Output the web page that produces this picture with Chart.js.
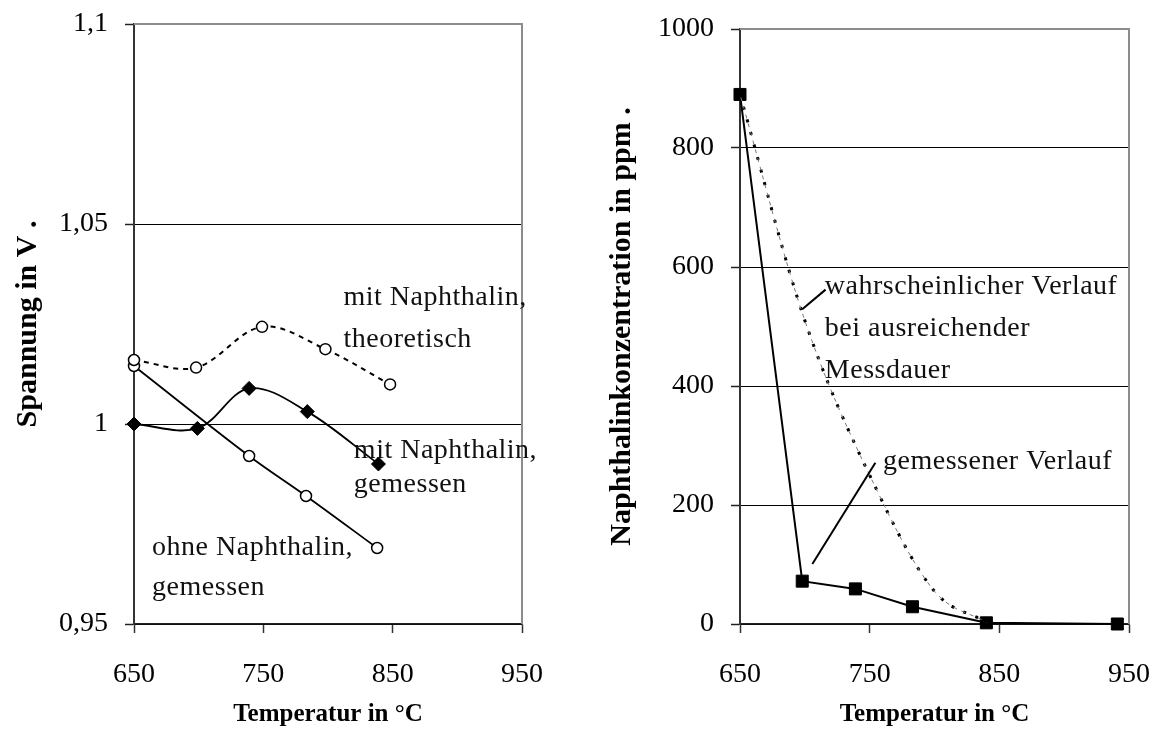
<!DOCTYPE html>
<html>
<head>
<meta charset="utf-8">
<script src="https://cdn.jsdelivr.net/npm/chart.js@4.4.0/dist/chart.umd.min.js"></script>
<style>
  html, body { margin: 0; padding: 0; background: #fff; }
  body { width: 1154px; height: 747px; position: relative; overflow: hidden; }
  .panel { position: absolute; top: 0; height: 747px; }
  #left { left: 0; width: 580px; }
  #right { left: 580px; width: 574px; }
</style>
</head>
<body>
<div class="panel" id="left"><canvas id="spannungChart"></canvas></div>
<div class="panel" id="right"><canvas id="naphthalinChart"></canvas></div>
<script>
// --- data: left chart (Spannung) ---
const tempTicks = [650, 750, 850, 950];
const spannungTicks = [0.95, 1, 1.05, 1.1];
const spannungTickLabels = ['0,95', '1', '1,05', '1,1'];

const ohneTemp = [650, 739, 783, 838];
const ohneSpannung = [1.0145, 0.992, 0.982, 0.969];

const mitGemTemp = [650, 699, 739, 784, 839];
const mitGemSpannung = [1.000, 0.9989, 1.0089, 1.0031, 0.990];

const mitTheoTemp = [650, 698, 749, 798, 848];
const mitTheoSpannung = [1.016, 1.0141, 1.0243, 1.0187, 1.0099];

// --- data: right chart (Naphthalinkonzentration) ---
const ppmTicks = [0, 200, 400, 600, 800, 1000];
const gemessenTemp = [650, 698, 739, 783, 840, 941];
const gemessenPpm = [890, 72, 59, 29, 2, 0];

const wahrTemp = [650, 700, 750, 800, 840];
const wahrPpm = [890, 510, 250, 55, 3];

const toPoints = (xs, ys) => xs.map((x, i) => ({ x: x, y: ys[i] }));

Chart.defaults.font.family = "'Liberation Serif', 'Times New Roman', serif";
Chart.defaults.color = '#000';

// gray frame on top and right of plot area
const framePlugin = {
    id: 'frame',
    beforeDatasetsDraw(chart) {
        const { ctx, chartArea: a } = chart;
        ctx.save();
        ctx.strokeStyle = '#8c8c8c';
        ctx.lineWidth = 2;
        ctx.beginPath();
        ctx.moveTo(a.left, a.top);
        ctx.lineTo(a.right, a.top);
        ctx.lineTo(a.right, a.bottom);
        ctx.stroke();
        ctx.restore();
    }
};

// text labels and leader lines placed in data units
const notesPlugin = {
    id: 'notes',
    afterDatasetsDraw(chart, args, opts) {
        const { ctx } = chart;
        const sx = chart.scales.x, sy = chart.scales.y;
        ctx.save();
        ctx.strokeStyle = '#000';
        ctx.lineWidth = 2;
        (opts.leaders || []).forEach(l => {
            ctx.beginPath();
            ctx.moveTo(sx.getPixelForValue(l[0]), sy.getPixelForValue(l[1]));
            ctx.lineTo(sx.getPixelForValue(l[2]), sy.getPixelForValue(l[3]));
            ctx.stroke();
        });
        ctx.fillStyle = '#111';
        ctx.font = "28px 'Liberation Serif', 'Times New Roman', serif";
        ctx.letterSpacing = '0.5px';
        ctx.textAlign = 'left';
        ctx.textBaseline = 'alphabetic';
        (opts.labels || []).forEach(t => {
            ctx.fillText(t.text, sx.getPixelForValue(t.x), sy.getPixelForValue(t.y));
        });
        ctx.restore();
    }
};

function xScale() {
    return {
        type: 'linear',
        min: 650,
        max: 950,
        afterBuildTicks: s => { s.ticks = tempTicks.map(v => ({ value: v })); },
        afterFit: s => {
            s.height = 123;
            s.paddingLeft = 0;
            s.paddingRight = 0;
        },
        ticks: { font: { size: 28 }, padding: 25, color: '#000' },
        grid: { drawOnChartArea: false, tickLength: 9, tickColor: '#333', tickWidth: 1.5 },
        border: { color: '#222', width: 1.5 },
        title: {
            display: true,
            text: 'Temperatur in °C',
            font: { size: 25, weight: 'bold' },
            padding: { top: 0, bottom: 17 },
            color: '#000'
        }
    };
}

function yGrid(maxVal) {
    return {
        color: c => (c.tick && Math.abs(c.tick.value - maxVal) < 1e-9) ? 'rgba(0,0,0,0)' : '#000',
        lineWidth: 1,
        tickLength: 9,
        tickColor: '#222',
        tickWidth: 1.5
    };
}

function fitY(width) {
    return s => {
        s.width = width;
        s.paddingTop = 0;
        s.paddingBottom = 0;
    };
}

new Chart(document.getElementById('spannungChart').getContext('2d'), {
    type: 'line',
    data: {
        datasets: [
            {
                label: 'mit Naphthalin, theoretisch',
                data: toPoints(mitTheoTemp, mitTheoSpannung),
                borderColor: '#000',
                borderWidth: 2,
                borderDash: [5, 5],
                tension: 0.35,
                pointStyle: 'circle',
                pointRadius: 5.5,
                pointBackgroundColor: '#fff',
                pointBorderColor: '#000',
                pointBorderWidth: 1.5,
                clip: false
            },
            {
                label: 'ohne Naphthalin, gemessen',
                data: toPoints(ohneTemp, ohneSpannung),
                borderColor: '#000',
                borderWidth: 1.8,
                tension: 0.35,
                pointStyle: 'circle',
                pointRadius: 5.5,
                pointBackgroundColor: '#fff',
                pointBorderColor: '#000',
                pointBorderWidth: 1.5,
                clip: false
            },
            {
                label: 'mit Naphthalin, gemessen',
                data: toPoints(mitGemTemp, mitGemSpannung),
                borderColor: '#000',
                borderWidth: 1.8,
                tension: 0.35,
                pointStyle: 'rectRot',
                pointRadius: 7,
                pointBackgroundColor: '#000',
                pointBorderColor: '#000',
                pointBorderWidth: 1,
                clip: false
            }
        ]
    },
    options: {
        responsive: true,
        maintainAspectRatio: false,
        animation: false,
        layout: { padding: { left: 0, right: 58, top: 24, bottom: 0 } },
        plugins: {
            legend: { display: false },
            tooltip: { enabled: false },
            notes: {
                labels: [
                    { text: 'mit Naphthalin,', x: 812, y: 1.02975 },
                    { text: 'theoretisch', x: 812, y: 1.01925 },
                    { text: 'mit Naphthalin,', x: 820, y: 0.9915 },
                    { text: 'gemessen', x: 820, y: 0.9831 },
                    { text: 'ohne Naphthalin,', x: 664, y: 0.9673 },
                    { text: 'gemessen', x: 664, y: 0.9573 }
                ]
            }
        },
        scales: {
            x: xScale(),
            y: {
                type: 'linear',
                min: 0.95,
                max: 1.1,
                afterBuildTicks: s => { s.ticks = spannungTicks.map(v => ({ value: v })); },
                afterFit: fitY(134),
                ticks: {
                    font: { size: 28 },
                    padding: 17,
                    color: '#000',
                    callback: (v, i) => spannungTickLabels[i]
                },
                grid: yGrid(1.1),
                border: { color: '#333', width: 2 },
                title: {
                    display: true,
                    text: 'Spannung in V .',
                    font: { size: 30, weight: 'bold' },
                    padding: { top: 10, bottom: 0 },
                    color: '#000'
                }
            }
        }
    },
    plugins: [framePlugin, notesPlugin]
});

new Chart(document.getElementById('naphthalinChart').getContext('2d'), {
    type: 'line',
    data: {
        datasets: [
            {
                label: 'wahrscheinlicher Verlauf (fein)',
                data: toPoints(wahrTemp, wahrPpm),
                borderColor: '#777',
                borderWidth: 1,
                borderDash: [4, 5],
                borderDashOffset: 6,
                cubicInterpolationMode: 'monotone',
                pointRadius: 0,
                clip: false
            },
            {
                label: 'wahrscheinlicher Verlauf bei ausreichender Messdauer',
                data: toPoints(wahrTemp, wahrPpm),
                borderColor: '#000',
                borderWidth: 3,
                borderDash: [3, 10],
                cubicInterpolationMode: 'monotone',
                pointRadius: 0,
                clip: false
            },
            {
                label: 'gemessener Verlauf',
                data: toPoints(gemessenTemp, gemessenPpm),
                borderColor: '#000',
                borderWidth: 2,
                tension: 0,
                pointStyle: 'rect',
                pointRadius: 8.5,
                pointBackgroundColor: '#000',
                pointBorderColor: '#000',
                pointBorderWidth: 1,
                clip: false
            }
        ]
    },
    options: {
        responsive: true,
        maintainAspectRatio: false,
        animation: false,
        layout: { padding: { left: 0, right: 25, top: 29, bottom: 0 } },
        plugins: {
            legend: { display: false },
            tooltip: { enabled: false },
            notes: {
                labels: [
                    { text: 'wahrscheinlicher Verlauf', x: 715.4, y: 555 },
                    { text: 'bei ausreichender', x: 715.4, y: 484 },
                    { text: 'Messdauer', x: 715.4, y: 413 },
                    { text: 'gemessener Verlauf', x: 760.3, y: 261 }
                ],
                leaders: [
                    [698, 529, 716, 562],
                    [705.8, 101, 754.4, 271]
                ]
            }
        },
        scales: {
            x: xScale(),
            y: {
                type: 'linear',
                min: 0,
                max: 1000,
                afterBuildTicks: s => { s.ticks = ppmTicks.map(v => ({ value: v })); },
                afterFit: fitY(160),
                ticks: {
                    font: { size: 28 },
                    padding: 17,
                    color: '#000',
                    callback: v => String(v)
                },
                grid: yGrid(1000),
                border: { color: '#333', width: 2 },
                title: {
                    display: true,
                    text: 'Naphthalinkonzentration in ppm .',
                    font: { size: 30, weight: 'bold' },
                    padding: { top: 24, bottom: 0 },
                    color: '#000'
                }
            }
        }
    },
    plugins: [framePlugin, notesPlugin]
});
</script>
</body>
</html>
